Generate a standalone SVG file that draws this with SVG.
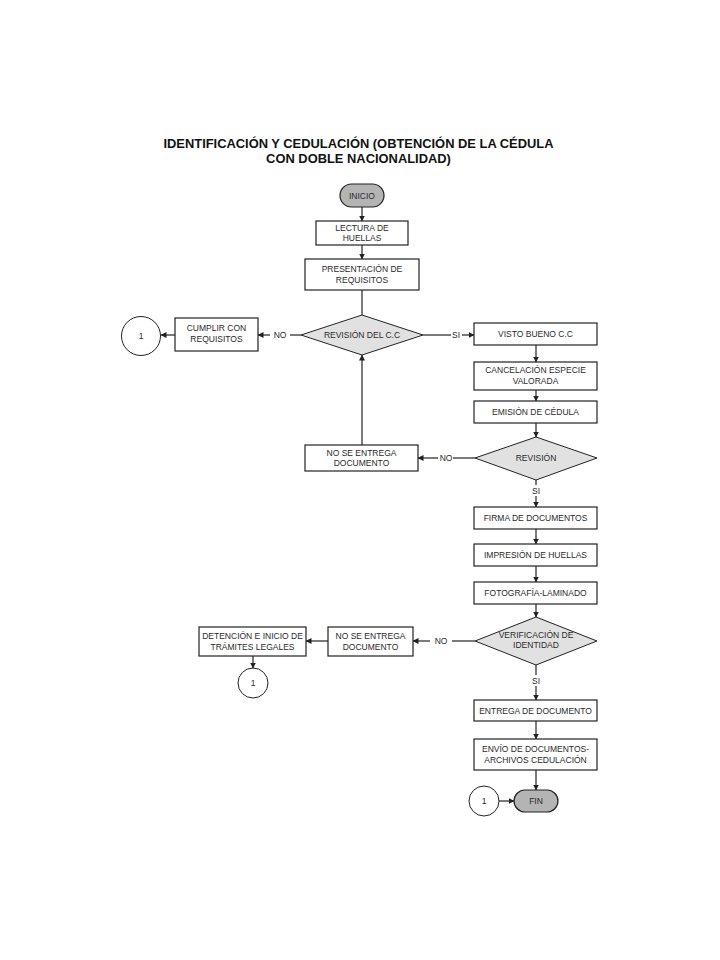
<svg xmlns="http://www.w3.org/2000/svg" width="720" height="960" viewBox="0 0 720 960">
<style>
.bg{fill:#ffffff}
.box{fill:#ffffff;stroke:#222;stroke-width:1.2}
.dec{fill:#e1e1e1;stroke:#222;stroke-width:1}
.term{fill:#b4b4b4;stroke:#222;stroke-width:1.2}
.circ{fill:#ffffff;stroke:#222;stroke-width:1}
.t{font-family:"Liberation Sans",Arial,sans-serif;font-size:8.5px;fill:#2a2a2a;text-anchor:middle}
.title{font-family:"Liberation Sans",Arial,sans-serif;font-size:12.9px;font-weight:bold;fill:#111;text-anchor:middle}
.c{fill:none;stroke:#222;stroke-width:1.2}
</style>
<defs>
<marker id="ah" markerWidth="6" markerHeight="6" refX="5.5" refY="3" orient="auto" markerUnits="userSpaceOnUse">
<path d="M0,0 L6,3 L0,6 Z" fill="#222"/>
</marker>
</defs>
<rect class="bg" x="0" y="0" width="720" height="960"/>
<g id="title">
<text class="title" x="358.5" y="147.5">IDENTIFICACIÓN Y CEDULACIÓN (OBTENCIÓN DE LA CÉDULA</text>
<text class="title" x="358.5" y="162.5">CON DOBLE NACIONALIDAD)</text>
</g>
<g id="connectors">
<path class="c" d="M362,207 V221" marker-end="url(#ah)"/>
<path class="c" d="M362,245 V259" marker-end="url(#ah)"/>
<path class="c" d="M362,290 V315"/>
<path class="c" d="M301,335 H290"/>
<path class="c" d="M270,335 H258" marker-end="url(#ah)"/>
<path class="c" d="M175,335 H161" marker-end="url(#ah)"/>
<path class="c" d="M423,335 H451"/>
<path class="c" d="M462,335 H474" marker-end="url(#ah)"/>
<path class="c" d="M536,345 V362" marker-end="url(#ah)"/>
<path class="c" d="M536,390 V401" marker-end="url(#ah)"/>
<path class="c" d="M536,423 V437" marker-end="url(#ah)"/>
<path class="c" d="M475,458 H453"/>
<path class="c" d="M438,458 H418" marker-end="url(#ah)"/>
<path class="c" d="M362,445 V355" marker-end="url(#ah)"/>
<path class="c" d="M536,480 V485"/>
<path class="c" d="M536,496 V507" marker-end="url(#ah)"/>
<path class="c" d="M536,529 V544" marker-end="url(#ah)"/>
<path class="c" d="M536,566 V582" marker-end="url(#ah)"/>
<path class="c" d="M536,604 V617" marker-end="url(#ah)"/>
<path class="c" d="M475,641 H452"/>
<path class="c" d="M430,641 H413" marker-end="url(#ah)"/>
<path class="c" d="M328,641 H306" marker-end="url(#ah)"/>
<path class="c" d="M253,656 V668" marker-end="url(#ah)"/>
<path class="c" d="M536,665 V675"/>
<path class="c" d="M536,686 V700" marker-end="url(#ah)"/>
<path class="c" d="M536,721 V739" marker-end="url(#ah)"/>
<path class="c" d="M536,770 V790" marker-end="url(#ah)"/>
<path class="c" d="M499,801 H514" marker-end="url(#ah)"/>
<text class="t" x="280" y="338">NO</text>
<text class="t" x="456" y="338">SI</text>
<text class="t" x="446" y="461">NO</text>
<text class="t" x="536" y="494">SI</text>
<text class="t" x="441" y="644">NO</text>
<text class="t" x="536" y="684">SI</text>
</g>
<g id="inicio">
<rect class="term" x="340" y="184" width="44" height="23" rx="11.5"/>
<text class="t" x="362" y="198.5">INICIO</text>
</g>
<g id="lectura">
<rect class="box" x="316" y="221" width="92" height="24"/>
<text class="t" x="362" y="231">LECTURA DE</text>
<text class="t" x="362" y="241">HUELLAS</text>
</g>
<g id="presentacion">
<rect class="box" x="305" y="259" width="114" height="31"/>
<text class="t" x="362" y="272">PRESENTACIÓN DE</text>
<text class="t" x="362" y="283">REQUISITOS</text>
</g>
<g id="revision_cc">
<polygon class="dec" points="362,315 423,335 362,355 301,335"/>
<text class="t" x="362" y="338">REVISIÓN DEL C.C</text>
</g>
<g id="cumplir">
<rect class="box" x="175" y="318" width="83" height="33"/>
<text class="t" x="216.5" y="331">CUMPLIR CON</text>
<text class="t" x="216.5" y="342">REQUISITOS</text>
</g>
<g id="conector1a">
<circle class="circ" cx="141" cy="336" r="19.5"/>
<text class="t" x="141" y="339">1</text>
</g>
<g id="visto_bueno">
<rect class="box" x="474" y="323" width="123" height="22"/>
<text class="t" x="535.5" y="337">VISTO BUENO C.C</text>
</g>
<g id="cancelacion">
<rect class="box" x="474" y="362" width="123" height="28"/>
<text class="t" x="535.5" y="373">CANCELACIÓN ESPECIE</text>
<text class="t" x="535.5" y="384">VALORADA</text>
</g>
<g id="emision">
<rect class="box" x="474" y="401" width="123" height="22"/>
<text class="t" x="535.5" y="415">EMISIÓN DE CÉDULA</text>
</g>
<g id="revision">
<polygon class="dec" points="536,437 597,458 536,480 475,458"/>
<text class="t" x="536" y="461">REVISIÓN</text>
</g>
<g id="no_entrega1">
<rect class="box" x="305" y="445" width="113" height="26"/>
<text class="t" x="361.5" y="456">NO SE ENTREGA</text>
<text class="t" x="361.5" y="466">DOCUMENTO</text>
</g>
<g id="firma">
<rect class="box" x="474" y="507" width="123" height="22"/>
<text class="t" x="535.5" y="521">FIRMA DE DOCUMENTOS</text>
</g>
<g id="impresion">
<rect class="box" x="474" y="544" width="123" height="22"/>
<text class="t" x="535.5" y="558">IMPRESIÓN DE HUELLAS</text>
</g>
<g id="fotografia">
<rect class="box" x="474" y="582" width="123" height="22"/>
<text class="t" x="535.5" y="596">FOTOGRAFÍA-LAMINADO</text>
</g>
<g id="verificacion">
<polygon class="dec" points="536,617 597,641 536,665 475,641"/>
<text class="t" x="536" y="638">VERIFICACIÓN DE</text>
<text class="t" x="536" y="648">IDENTIDAD</text>
</g>
<g id="no_entrega2">
<rect class="box" x="328" y="627" width="85" height="29"/>
<text class="t" x="370.5" y="639">NO SE ENTREGA</text>
<text class="t" x="370.5" y="650">DOCUMENTO</text>
</g>
<g id="detencion">
<rect class="box" x="199" y="627" width="107" height="29"/>
<text class="t" x="252.5" y="639">DETENCIÓN E INICIO DE</text>
<text class="t" x="252.5" y="650">TRÁMITES LEGALES</text>
</g>
<g id="conector1b">
<circle class="circ" cx="253" cy="683" r="15"/>
<text class="t" x="253" y="686">1</text>
</g>
<g id="entrega">
<rect class="box" x="474" y="700" width="123" height="21"/>
<text class="t" x="535.5" y="714">ENTREGA DE DOCUMENTO</text>
</g>
<g id="envio">
<rect class="box" x="474" y="739" width="123" height="31"/>
<text class="t" x="535.5" y="752">ENVÍO DE DOCUMENTOS-</text>
<text class="t" x="535.5" y="763">ARCHIVOS CEDULACIÓN</text>
</g>
<g id="conector1c">
<circle class="circ" cx="484" cy="801" r="15"/>
<text class="t" x="484" y="804">1</text>
</g>
<g id="fin">
<rect class="term" x="514" y="790" width="44" height="22" rx="11"/>
<text class="t" x="536" y="804">FIN</text>
</g>
</svg>
